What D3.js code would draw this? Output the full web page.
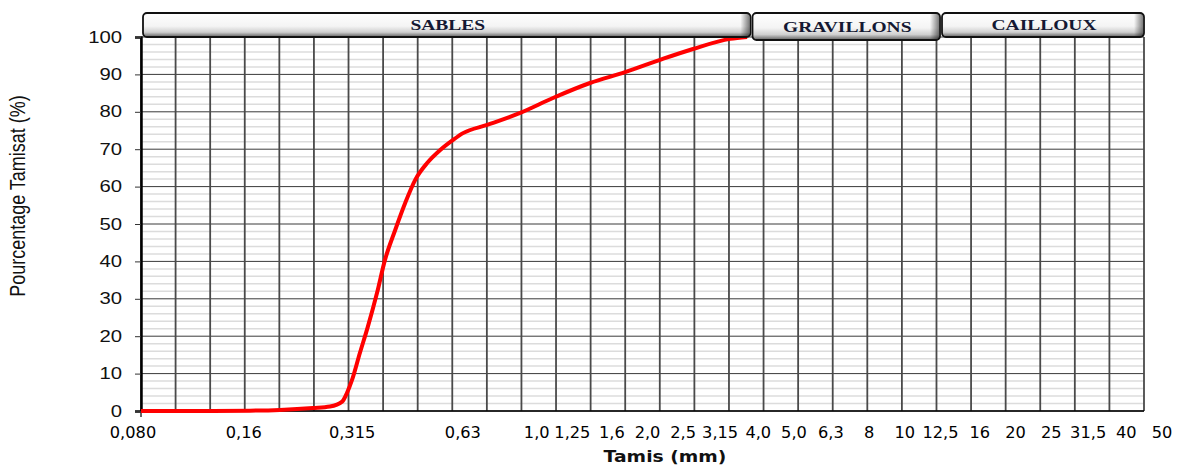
<!DOCTYPE html>
<html>
<head>
<meta charset="utf-8">
<script src="https://cdn.jsdelivr.net/npm/d3@7"></script>
<style>
  body { margin: 0; background: #fff; }
  svg { display: block; }
</style>
</head>
<body>
<div id="chart"></div>
<script>
// granulometric curve
const tamisMm = [0.08, 0.117, 0.161, 0.195, 0.241, 0.269, 0.291, 0.300, 0.310, 0.326, 0.343, 0.364, 0.383, 0.409, 0.436, 0.465, 0.502, 0.546, 0.593, 0.632, 0.738, 0.912, 1.126, 1.428, 1.788, 2.239, 2.766, 3.510, 3.914];
const tamisat = [0, 0, 0.1, 0.3, 0.8, 1.2, 2.5, 4.8, 8.3, 15.5, 22.5, 31.6, 40.4, 48.4, 55.6, 61.8, 66.3, 69.8, 72.5, 74.3, 76.5, 79.7, 83.7, 87.7, 90.6, 93.9, 96.8, 99.5, 100];

const tickValues = [0.08, 0.16, 0.315, 0.63, 1, 1.25, 1.6, 2, 2.5, 3.15, 4, 5, 6.3, 8, 10, 12.5, 16, 20, 25, 31.5, 40, 50];
const tickLabels = ["0,080", "0,16", "0,315", "0,63", "1,0", "1,25", "1,6", "2,0", "2,5", "3,15", "4,0", "5,0", "6,3", "8", "10", "12,5", "16", "20", "25", "31,5", "40", "50"];

const classNames = ["SABLES", "GRAVILLONS", "CAILLOUX"];
const classFrom = [0.08, 4, 13.5];
const classTo = [4, 13.5, 50];

const yTicks = [0, 10, 20, 30, 40, 50, 60, 70, 80, 90, 100];
const nbVertLines = 30;

const margin = {top: 37, right: 37, bottom: 57, left: 141};
const W = 1181, H = 468;
const width = W - margin.left - margin.right;
const height = H - margin.top - margin.bottom;
const stretch = 1.27; // the source picture is stretched horizontally

const svg = d3.select("#chart").append("svg")
  .attr("width", W)
  .attr("height", H);

const defs = svg.append("defs");
const grad = defs.append("linearGradient").attr("id", "boxGrad")
  .attr("x1", 0).attr("y1", 0).attr("x2", 0).attr("y2", 1);
grad.append("stop").attr("offset", "0%").attr("stop-color", "#ffffff");
grad.append("stop").attr("offset", "55%").attr("stop-color", "#f4f4f4");
grad.append("stop").attr("offset", "80%").attr("stop-color", "#cfcfcf");
grad.append("stop").attr("offset", "100%").attr("stop-color", "#5e5e5e");
const gradR = defs.append("linearGradient").attr("id", "boxGradR")
  .attr("x1", 0).attr("y1", 0).attr("x2", 1).attr("y2", 0);
gradR.append("stop").attr("offset", "0%").attr("stop-color", "#000").attr("stop-opacity", 0);
gradR.append("stop").attr("offset", "100%").attr("stop-color", "#000").attr("stop-opacity", 0.5);

const g = svg.append("g").attr("transform", `translate(${margin.left},${margin.top})`);

const x = d3.scaleLog().domain([0.08, 50]).range([0, width]);
// label row of the source is slightly wider than the plot
const xLab = d3.scaleLog().domain([0.08, 50]).range([-8, width + 18]);
const xGrid = d3.scaleLinear().domain([0, nbVertLines - 1]).range([0, width]);
const y = d3.scaleLinear().domain([0, 100]).range([height, 0]);

// minor horizontal grid
g.append("g").selectAll("line")
  .data(d3.range(0, 101, 2).filter(d => d % 10 !== 0))
  .join("line")
  .attr("x1", 0).attr("x2", width)
  .attr("y1", d => y(d)).attr("y2", d => y(d))
  .attr("stroke", "#dcdcdc")
  .attr("stroke-width", 1.5);

// major horizontal grid
g.append("g").selectAll("line")
  .data(yTicks)
  .join("line")
  .attr("x1", 0).attr("x2", width)
  .attr("y1", d => y(d)).attr("y2", d => y(d))
  .attr("stroke", "#3a3a3a")
  .attr("stroke-width", 1);

// vertical grid
g.append("g").selectAll("line")
  .data(d3.range(nbVertLines))
  .join("line")
  .attr("x1", d => xGrid(d)).attr("x2", d => xGrid(d))
  .attr("y1", 0).attr("y2", height)
  .attr("stroke", "#4a4a4a")
  .attr("stroke-width", 1.8);

// y axis
const yAxis = g.append("g")
  .call(d3.axisLeft(y).tickValues(yTicks).tickSize(6).tickFormat(d3.format("d")));
yAxis.select(".domain").attr("stroke", "#000").attr("stroke-width", 2.5);
yAxis.selectAll(".tick line").attr("stroke", "#333");
yAxis.selectAll("text")
  .attr("x", null)
  .attr("transform", `translate(-19,0) scale(${stretch},1)`)
  .attr("font-family", "'Liberation Sans', Arial, sans-serif")
  .attr("font-size", 16)
  .attr("fill", "#111");

// x axis line
g.append("line")
  .attr("x1", 0).attr("x2", width)
  .attr("y1", height).attr("y2", height)
  .attr("stroke", "#000").attr("stroke-width", 1.5);
g.append("line")
  .attr("x1", 0).attr("x2", 0)
  .attr("y1", height).attr("y2", height + 6)
  .attr("stroke", "#333").attr("stroke-width", 1.5);

// x tick labels
g.append("g").selectAll("text")
  .data(tickValues)
  .join("text")
  .attr("transform", d => `translate(${xLab(d)},${height + 27}) scale(1.08,1)`)
  .attr("text-anchor", "middle")
  .attr("font-family", "'DejaVu Sans', Verdana, sans-serif")
  .attr("font-size", 15)
  .attr("fill", "#000")
  .text((d, i) => tickLabels[i]);

// curve
const pts = tamisMm.map((d, i) => [d, tamisat[i]]);
g.append("path")
  .datum(pts)
  .attr("fill", "none")
  .attr("stroke", "#ff0000")
  .attr("stroke-width", 4)
  .attr("stroke-linejoin", "round")
  .attr("d", d3.line().x(d => x(d[0])).y(d => y(d[1])).curve(d3.curveMonotoneX));

// class header boxes
const boxes = svg.append("g").selectAll("g")
  .data(classNames)
  .join("g")
  .attr("transform", (d, i) => `translate(${margin.left + x(classFrom[i]) + 2},13)`);
boxes.append("rect")
  .attr("width", (d, i) => x(classTo[i]) - x(classFrom[i]) - 2)
  .attr("height", (d, i) => i === 1 ? 27 : 24)
  .attr("rx", 4)
  .attr("fill", "url(#boxGrad)")
  .attr("stroke", "#111")
  .attr("stroke-width", 1.8);
boxes.append("rect")
  .attr("x", (d, i) => x(classTo[i]) - x(classFrom[i]) - 12)
  .attr("y", 1)
  .attr("width", 9)
  .attr("height", (d, i) => i === 1 ? 25 : 22)
  .attr("fill", "url(#boxGradR)");
boxes.append("text")
  .attr("transform", (d, i) => `translate(${(x(classTo[i]) - x(classFrom[i])) / 2},${i === 1 ? 19 : 17}) scale(1.3,1)`)
  .attr("text-anchor", "middle")
  .attr("font-family", "'Liberation Serif', 'Times New Roman', serif")
  .attr("font-weight", "bold")
  .attr("font-size", 15)
  .attr("fill", "#141833")
  .text(d => d);

// axis titles
svg.append("text")
  .attr("transform", `translate(665,${H - 6}) scale(1.25,1)`)
  .attr("text-anchor", "middle")
  .attr("font-family", "'DejaVu Sans', Verdana, sans-serif")
  .attr("font-weight", "bold")
  .attr("font-size", 15)
  .attr("fill", "#111")
  .text("Tamis (mm)");

svg.append("text")
  .attr("transform", `translate(25,196) rotate(-90) scale(1,1.25)`)
  .attr("text-anchor", "middle")
  .attr("font-family", "'Liberation Sans', Arial, sans-serif")
  .attr("font-size", 18)
  .attr("fill", "#111")
  .text("Pourcentage Tamisat (%)");
</script>
</body>
</html>
